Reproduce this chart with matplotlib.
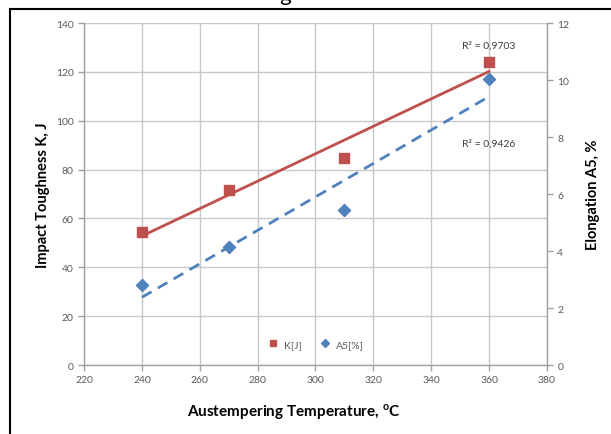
import numpy as np
import matplotlib
matplotlib.use("Agg")
import matplotlib.pyplot as plt
from matplotlib.lines import Line2D

plt.rcParams['font.family'] = ['Lato', 'DejaVu Sans']

# data
temp = [240, 270, 310, 360]
toughness = [54.4, 71.6, 84.7, 124.0]      # K [J], left axis
elongation = [2.81, 4.14, 5.44, 10.03]     # A5 [%], right axis
r2_k = 'R² = 0,9703'
r2_a = 'R² = 0,9426'

red = '#C0504D'
blue = '#4F81BD'
grid_c = '#C8C8C8'
axis_c = '#A0A0A0'
tick_c = '#595959'

fig = plt.figure(figsize=(6.11, 4.35), dpi=100)
ax = fig.add_axes([0.1375, 0.1586, 0.7577, 0.7862])
ax2 = ax.twinx()

# linear trend lines (Excel style)
xt = np.array([min(temp), max(temp)])
pk = np.polyfit(temp, toughness, 1)
pa = np.polyfit(temp, elongation, 1)
ax.plot(xt, np.polyval(pk, xt), color=red, lw=2, zorder=3)
ax2.plot(xt, np.polyval(pa, xt), color=blue, lw=2, ls=(0, (4, 2.6)), zorder=3)

ax.scatter(temp, toughness, marker='s', s=55, color=red, zorder=4)
ax2.scatter(temp, elongation, marker='D', s=38, color=blue, zorder=4)

ax.set_xlim(220, 380)
ax.set_ylim(0, 140)
ax2.set_ylim(0, 12)
ax.set_xticks(np.arange(220, 381, 20))
ax.set_yticks(np.arange(0, 141, 20))
ax2.set_yticks(np.arange(0, 13, 2))

ax.grid(True, color=grid_c, lw=1)
ax.set_axisbelow(True)

for a in (ax, ax2):
    for s in a.spines.values():
        s.set_visible(False)
ax.spines['left'].set_visible(True)
ax.spines['bottom'].set_visible(True)
ax2.spines['right'].set_visible(True)
for s in (ax.spines['left'], ax.spines['bottom'], ax2.spines['right']):
    s.set_color(axis_c)
    s.set_linewidth(1)

ax.tick_params(axis='both', colors=axis_c, labelcolor=tick_c, labelsize=7.5,
               length=4, width=1)
ax2.tick_params(axis='y', colors=axis_c, labelcolor=tick_c, labelsize=7.5,
                length=4, width=1)

ax.set_xlabel('Austempering Temperature, $^{\\mathregular{o}}$C', fontsize=11,
              fontweight='bold')
ax.xaxis.set_label_coords(0.454, -0.105)
ax.set_ylabel('Impact Toughness K, J', fontsize=10.5, fontweight='bold', labelpad=4)
ax2.set_ylabel('Elongation A5, %', fontsize=10.5, fontweight='bold', labelpad=12)

ax.text(360, 131, r2_k, fontsize=7.5, color='#404040', ha='center', va='center')
ax.text(360, 91, r2_a, fontsize=7.5, color='#404040', ha='center', va='center')

handles = [Line2D([], [], marker='s', color=red, ls='none', markersize=5),
           Line2D([], [], marker='D', color=blue, ls='none', markersize=4)]
ax.legend(handles, ['K[J]', 'A5[%]'], ncol=2, frameon=False, loc='lower center',
          bbox_to_anchor=(0.495, 0.02), fontsize=7.5, handletextpad=0.1,
          columnspacing=1.2, labelcolor=tick_c)

# frame of the original figure and cut-off caption
fig.add_artist(Line2D([10 / 611, 10 / 611], [0, 1 - 10 / 435], color='black', lw=1.5,
                      transform=fig.transFigure))
fig.add_artist(Line2D([10 / 611, 1], [1 - 10 / 435, 1 - 10 / 435], color='black', lw=1.5,
                      transform=fig.transFigure))
fig.text(0.467, 1.012, 'g', fontsize=16, ha='center', va='center')

fig.savefig('out.png', dpi=100)
